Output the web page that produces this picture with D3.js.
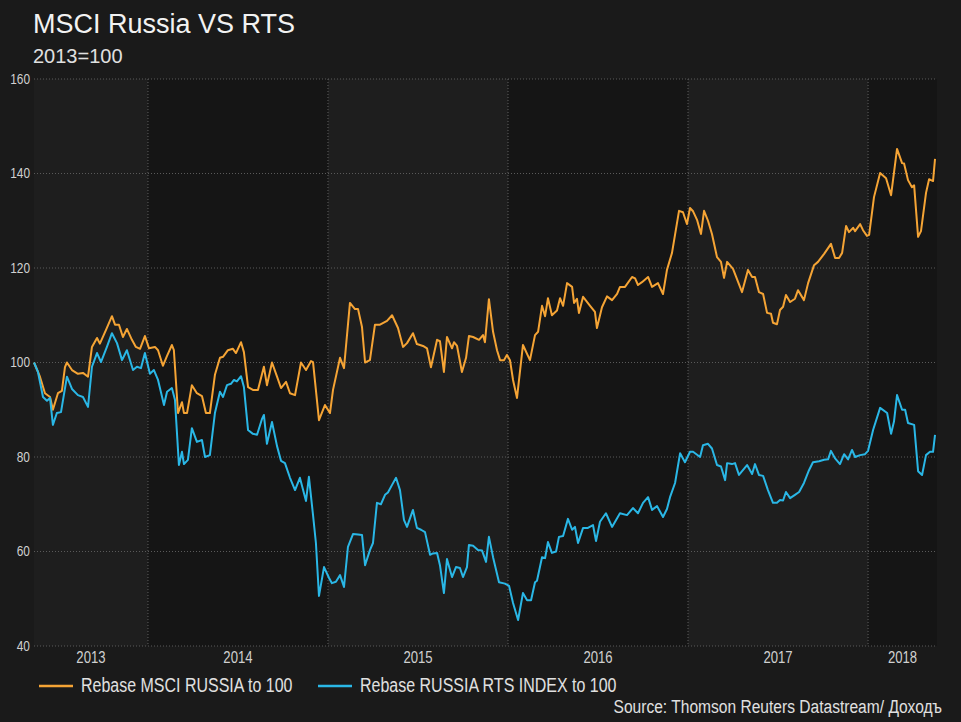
<!DOCTYPE html>
<html><head><meta charset="utf-8">
<script src="https://cdn.jsdelivr.net/npm/d3@7"></script>
<style>
html,body{margin:0;padding:0;background:#1a1a1a;}
svg{display:block;}
</style></head>
<body>
<svg id="chart" width="961" height="722"></svg>
<script>
// ---- DATA (dates as decimal years) ----
const titleText = "MSCI Russia VS RTS";
const subtitleText = "2013=100";
const sourceText = "Source: Thomson Reuters Datastream/ Доходъ";
const seriesNames = ["Rebase MSCI RUSSIA to 100", "Rebase RUSSIA RTS INDEX to 100"];
const yTicks = [40, 60, 80, 100, 120, 140, 160];
const yearLabels = [2013, 2014, 2015, 2016, 2017, 2018];
const xDomain = [2013.367, 2018.383];

const msciDates = [
2013.367,2013.400,2013.428,2013.456,2013.472,2013.500,2013.522,2013.539,2013.550,2013.578,
2013.611,2013.639,2013.667,2013.689,2013.717,2013.733,2013.767,2013.800,2013.817,2013.839,
2013.861,2013.883,2013.911,2013.933,2013.956,2013.983,2014.006,2014.039,2014.056,2014.083,
2014.106,2014.133,2014.144,2014.167,2014.189,2014.200,2014.217,2014.244,2014.272,2014.300,
2014.322,2014.344,2014.372,2014.400,2014.417,2014.444,2014.472,2014.489,2014.517,2014.533,
2014.556,2014.583,2014.611,2014.644,2014.661,2014.689,2014.717,2014.739,2014.767,2014.789,
2014.817,2014.850,2014.878,2014.906,2014.917,2014.950,2014.983,2015.011,2015.028,2015.067,
2015.089,2015.122,2015.150,2015.167,2015.189,2015.206,2015.233,2015.261,2015.289,2015.328,
2015.356,2015.389,2015.417,2015.439,2015.472,2015.494,2015.528,2015.550,2015.572,2015.606,
2015.622,2015.644,2015.661,2015.689,2015.700,2015.717,2015.744,2015.767,2015.783,2015.806,
2015.839,2015.861,2015.872,2015.894,2015.917,2015.939,2015.956,2015.978,2015.994,2016.011,
2016.028,2016.050,2016.083,2016.122,2016.150,2016.167,2016.189,2016.206,2016.222,2016.244,
2016.272,2016.289,2016.306,2016.328,2016.356,2016.367,2016.383,2016.394,2016.417,2016.456,
2016.483,2016.494,2016.522,2016.550,2016.578,2016.606,2016.622,2016.650,2016.689,2016.706,
2016.722,2016.744,2016.778,2016.800,2016.833,2016.861,2016.883,2016.911,2016.950,2016.972,
2016.994,2017.011,2017.028,2017.050,2017.072,2017.089,2017.111,2017.133,2017.161,2017.183,
2017.200,2017.217,2017.250,2017.300,2017.333,2017.356,2017.372,2017.394,2017.417,2017.439,
2017.461,2017.472,2017.494,2017.511,2017.528,2017.544,2017.567,2017.594,2017.611,2017.644,
2017.667,2017.700,2017.722,2017.756,2017.794,2017.817,2017.839,2017.856,2017.878,2017.894,
2017.917,2017.928,2017.956,2017.972,2017.994,2018.006,2018.033,2018.067,2018.100,2018.128,
2018.161,2018.189,2018.200,2018.222,2018.244,2018.256,2018.278,2018.294,2018.322,2018.339,
2018.361,2018.372];
const msciValues = [
100,97,93.5,92.7,90,93.5,94,99,100,98.4,
97.6,97.8,97,103.3,105.2,104,106.9,109.8,108,108,
105.4,107.1,104.8,103.3,102.9,105.6,103,103.3,102.6,99.3,
101.4,103.7,102.6,89.3,91.6,89.3,89.3,95.2,93.5,92.9,
89.3,89.3,97.4,101,101.2,102.6,102.9,102,104.3,102.2,
94.8,94.2,94.2,99.1,95.2,100,97,94.6,95.9,93.5,
93.1,100,98.4,100.3,100.1,87.8,91,89.3,94.2,101,
98.8,112.6,111.3,111.3,107.5,100,100.5,108,108,108.8,
110,107.3,103.3,104.1,106.2,103.9,103.5,103,99,104.8,
104.5,98,105.4,103,104.3,103.5,98,101,105.6,105.4,
104.8,105.8,104.3,113.4,106.5,102.6,100.5,100.5,101.6,100.5,
96.3,92.5,103.7,100.5,105.8,106.5,112,109.8,113.6,110,
111,113.6,112,116.8,116,112.6,113.5,110.5,113.9,112,
110.7,107.3,111.7,114,113.2,114.5,116,116,118.1,117.8,
116.4,117,118.1,116,116.8,114.5,119.6,123.2,132.1,131.8,
129.3,132.7,132,130.2,127.2,132.1,130,127.2,122.3,121.3,
117.9,121.3,119.8,114.9,119.6,118.1,118.1,114.9,114.5,110.5,
110.3,108.4,108.1,111.1,111.8,114.3,112.8,113.5,115.3,113.2,
116.8,120.6,121.3,123,125.1,122.1,122.1,123.2,128.9,127.6,
128.5,127.8,129.3,128,126.8,127,135,140.1,139,135.4,
145.2,142.2,142.1,138.6,137.1,137.5,126.6,127.8,135.9,138.8,
138.4,143.1];

const rtsDates = [
2013.367,2013.389,2013.417,2013.439,2013.456,2013.472,2013.494,2013.517,2013.550,2013.578,
2013.611,2013.639,2013.667,2013.689,2013.717,2013.739,2013.772,2013.800,2013.828,2013.856,
2013.883,2013.917,2013.939,2013.961,2013.983,2014.011,2014.033,2014.056,2014.089,2014.106,
2014.133,2014.150,2014.172,2014.189,2014.200,2014.222,2014.244,2014.272,2014.300,2014.317,
2014.344,2014.372,2014.400,2014.417,2014.439,2014.461,2014.478,2014.494,2014.517,2014.533,
2014.556,2014.583,2014.606,2014.633,2014.644,2014.661,2014.689,2014.717,2014.739,2014.761,
2014.789,2014.817,2014.844,2014.878,2014.894,2014.917,2014.933,2014.950,2014.978,2015.006,
2015.022,2015.044,2015.067,2015.089,2015.111,2015.139,2015.167,2015.189,2015.206,2015.233,
2015.250,2015.272,2015.294,2015.317,2015.333,2015.356,2015.378,2015.400,2015.422,2015.439,
2015.472,2015.494,2015.517,2015.539,2015.567,2015.583,2015.606,2015.622,2015.644,2015.661,
2015.689,2015.711,2015.733,2015.750,2015.772,2015.783,2015.806,2015.833,2015.856,2015.878,
2015.894,2015.917,2015.950,2015.983,2016.006,2016.028,2016.056,2016.083,2016.106,2016.128,
2016.150,2016.161,2016.189,2016.206,2016.222,2016.244,2016.267,2016.283,2016.306,2016.333,
2016.356,2016.372,2016.389,2016.417,2016.444,2016.472,2016.489,2016.511,2016.544,2016.578,
2016.622,2016.661,2016.694,2016.722,2016.750,2016.778,2016.800,2016.828,2016.861,2016.883,
2016.900,2016.928,2016.956,2016.983,2017.011,2017.028,2017.067,2017.083,2017.111,2017.133,
2017.161,2017.183,2017.206,2017.217,2017.244,2017.261,2017.283,2017.328,2017.356,2017.372,
2017.394,2017.417,2017.444,2017.472,2017.494,2017.511,2017.528,2017.544,2017.567,2017.594,
2017.617,2017.644,2017.672,2017.694,2017.728,2017.756,2017.778,2017.794,2017.817,2017.844,
2017.867,2017.889,2017.911,2017.928,2017.956,2017.983,2018.000,2018.028,2018.067,2018.106,
2018.128,2018.144,2018.161,2018.189,2018.206,2018.222,2018.256,2018.278,2018.300,2018.322,
2018.344,2018.361,2018.372];
const rtsValues = [
100,98,92.7,91.9,92.5,86.8,89.3,89.5,97,94.4,
93.1,92.7,90.6,99.1,102,100.1,103.3,106.2,104.1,100.5,
102.6,98.4,99.1,98.8,102,97.6,98.4,96.3,91,93.8,
94.6,92.1,78.3,81.1,78.5,79.4,86.1,83.2,83.6,80,
80.4,89.3,93.8,92.7,95.2,95.5,96.3,96,97.1,94.8,
85.7,84.9,84.7,88,88.9,82.8,87.4,82.3,79.2,78.7,
75.6,73,75.6,70.7,75.8,67.7,61.8,50.6,56.7,54.4,
53.3,53.6,55,52.5,61,63.7,63.6,63.5,57.1,60.3,
61.8,70.3,70,72,72.5,74.1,75.6,73,66.7,65.2,
68.8,65,64.6,64.1,59.3,59.6,59.7,57.1,51.2,58.4,
54.6,56.7,56.5,54.6,56.7,61.4,61.2,60.3,60.2,57.8,
63.1,58.8,53.5,53.2,52.7,49.1,45.5,51.2,49.7,49.7,
53.5,53.8,58.8,58.6,62,59.7,60,63.1,63.3,66.9,
64.6,65.2,61.8,65,65,65.6,62.2,66.3,68.1,65.2,
68.1,67.7,69.2,68.1,70.3,71.5,68.8,69.6,67.3,69,
71.5,74.5,80.8,78.9,81.1,81.1,80,82.5,82.8,81.8,
78.3,78,75.1,78.7,78.5,78.7,76.2,78.3,76.4,78.5,
76.2,76,73,70.3,70.3,70.9,70.8,72.6,71.3,72,
72.6,74.5,77.2,78.9,79.1,79.4,79.5,81.3,79.7,78.5,
80.6,79.5,81.5,80,80.4,80.6,81.3,85.7,90.4,89.3,
84.9,87.5,93.1,90,90,87.2,86.8,77,76.2,80.4,
81.1,81.1,84.7];

const colors = ["#f5a435", "#2ab7e6"];

// ---- DRAW ----
const W = 961, H = 722;
const plot = {left: 34, right: 937, top: 79, bottom: 646};
const svg = d3.select("#chart");
const sans = "'Liberation Sans', Arial, sans-serif";
const NARROW = 0.82; // emulate a condensed face by horizontal scaling about the anchor

function condense(sel) {
  sel.each(function() {
    const ax = +this.getAttribute("x");
    this.setAttribute("transform",
      `translate(${ax},0) scale(${NARROW},1) translate(${-ax},0)`);
  });
}

svg.append("rect").attr("width", W).attr("height", H).attr("fill", "#1a1a1a");

const x = d3.scaleLinear().domain(xDomain).range([plot.left, plot.right]);
const y = d3.scaleLinear().domain([40, 160]).range([plot.bottom, plot.top]);

// year bands
const bandEdges = [xDomain[0], ...yearLabels.slice(1), xDomain[1]];
yearLabels.forEach((yr, i) => {
  const x0 = x(bandEdges[i]), x1 = x(bandEdges[i + 1]);
  svg.append("rect").attr("x", x0).attr("y", plot.top)
    .attr("width", x1 - x0).attr("height", plot.bottom - plot.top)
    .attr("fill", i % 2 === 0 ? "#1e1e1e" : "#151515");
});

// horizontal gridlines
svg.append("g").selectAll("line").data(yTicks).join("line")
  .attr("x1", plot.left).attr("x2", plot.right)
  .attr("y1", d => y(d)).attr("y2", d => y(d))
  .attr("stroke", "#5a5a5a").attr("stroke-width", 1).attr("stroke-dasharray", "1,2");

// vertical gridlines at year boundaries
svg.append("g").selectAll("line").data(yearLabels.slice(1)).join("line")
  .attr("x1", d => x(d)).attr("x2", d => x(d))
  .attr("y1", plot.top).attr("y2", plot.bottom)
  .attr("stroke", "#606060").attr("stroke-width", 1).attr("stroke-dasharray", "1,2");

// y labels
svg.append("g").selectAll("text").data(yTicks).join("text")
  .attr("x", 30).attr("y", d => y(d) + 5)
  .attr("text-anchor", "end").attr("fill", "#d0d0d0")
  .attr("font-family", sans).attr("font-size", 14.5)
  .text(d => d).call(condense);

// x (year) labels centered in bands
svg.append("g").selectAll("text").data(yearLabels).join("text")
  .attr("x", (d, i) => (x(bandEdges[i]) + x(bandEdges[i + 1])) / 2)
  .attr("y", 663)
  .attr("text-anchor", "middle").attr("fill", "#d0d0d0")
  .attr("font-family", sans).attr("font-size", 16)
  .text(d => d).call(condense);

// lines
const line = d3.line().x(d => x(d[0])).y(d => y(d[1]));
const msci = msciDates.map((d, i) => [d, msciValues[i]]);
const rts = rtsDates.map((d, i) => [d, rtsValues[i]]);
[[msci, colors[0]], [rts, colors[1]]].forEach(([data, c]) => {
  svg.append("path").datum(data).attr("d", line)
    .attr("fill", "none").attr("stroke", c).attr("stroke-width", 2)
    .attr("stroke-linejoin", "round");
});

// title
svg.append("text").attr("x", 33).attr("y", 33)
  .attr("fill", "#f2f2f2").attr("font-family", sans).attr("font-size", 27)
  .text(titleText);
svg.append("text").attr("x", 33).attr("y", 63)
  .attr("fill", "#e0e0e0").attr("font-family", sans).attr("font-size", 20)
  .text(subtitleText);

// legend
const legendX = [39, 318];
seriesNames.forEach((n, i) => {
  svg.append("line").attr("x1", legendX[i]).attr("x2", legendX[i] + 34)
    .attr("y1", 686).attr("y2", 686).attr("stroke", colors[i]).attr("stroke-width", 2.5);
  svg.append("text").attr("x", legendX[i] + 42).attr("y", 692)
    .attr("fill", "#e0e0e0").attr("font-family", sans).attr("font-size", 19.5)
    .text(n).call(condense);
});

// source
svg.append("text").attr("x", 942).attr("y", 713).attr("text-anchor", "end")
  .attr("fill", "#e0e0e0").attr("font-family", sans).attr("font-size", 19)
  .text(sourceText).call(condense);
</script>
</body></html>
